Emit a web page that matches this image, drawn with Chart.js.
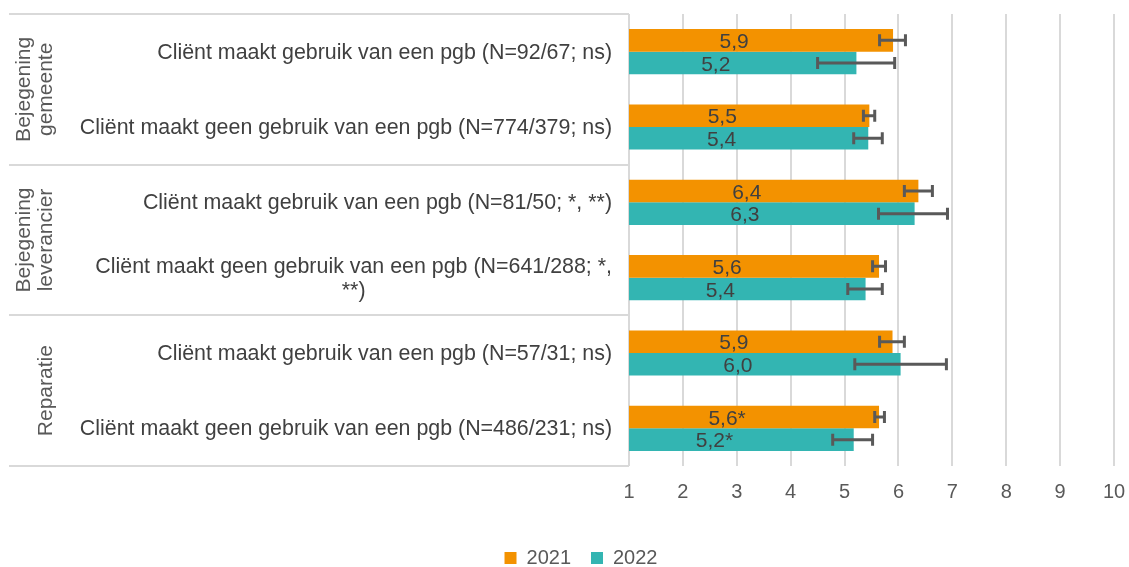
<!DOCTYPE html>
<html>
<head>
<meta charset="utf-8">
<script src="https://cdn.jsdelivr.net/npm/chart.js@4/dist/chart.umd.min.js"></script>
<style>
  html, body { margin: 0; padding: 0; background: #fff; overflow: hidden; }
  #wrap { width: 1129px; height: 567px; }
</style>
</head>
<body>
<div id="wrap"><canvas id="myChart"></canvas></div>
<script>
// categories (one row per bar pair) and the group each row belongs to
const categories = [
  ["Cliënt maakt gebruik van een pgb (N=92/67; ns)"],
  ["Cliënt maakt geen gebruik van een pgb (N=774/379; ns)"],
  ["Cliënt maakt gebruik van een pgb (N=81/50; *, **)"],
  ["Cliënt maakt geen gebruik van een pgb (N=641/288; *,", "**)"],
  ["Cliënt maakt gebruik van een pgb (N=57/31; ns)"],
  ["Cliënt maakt geen gebruik van een pgb (N=486/231; ns)"],
];
const groups = [
  ["Bejegening", "gemeente"],
  ["Bejegening", "leverancier"],
  ["Reparatie"],
];
const groupSize = 2;

// series values (mean scores)
const values2021 = [5.9, 5.46, 6.37, 5.64, 5.89, 5.64];
const values2022 = [5.22, 5.44, 6.3, 5.39, 6.04, 5.17];
// significance markers shown after the value label
const marks2021 = ["", "", "", "", "", "*"];
const marks2022 = ["", "", "", "", "", "*"];
// confidence intervals
const low2021 = [5.65, 5.35, 6.11, 5.52, 5.65, 5.56];
const high2021 = [6.13, 5.56, 6.63, 5.76, 6.11, 5.74];
const low2022 = [4.5, 5.17, 5.63, 5.06, 5.19, 4.78];
const high2022 = [5.93, 5.7, 6.91, 5.7, 6.89, 5.52];

const tickValues = [1, 2, 3, 4, 5, 6, 7, 8, 9, 10];

const FONT = "'Liberation Sans', Arial, sans-serif";
const ORANGE = "#F39200";
const TEAL = "#33B5B2";
const GRID = "#d9d9d9";
const LEFT = 629;
const PAD_LEFT = 48;

// labels, separators, group titles and error bars
const decorPlugin = {
  id: "decor",
  afterDatasetsDraw(chart) {
    const ctx = chart.ctx;
    const y = chart.scales.y;
    const x = chart.scales.x;
    const area = chart.chartArea;
    ctx.save();

    // horizontal separators of the label table
    ctx.strokeStyle = GRID;
    ctx.lineWidth = 2;
    for (let g = 0; g <= groups.length; g++) {
      const py = Math.round(y.getPixelForValue(g * groupSize - 0.5));
      ctx.beginPath();
      ctx.moveTo(9, py);
      ctx.lineTo(area.left, py);
      ctx.stroke();
    }

    // group titles, rotated
    ctx.fillStyle = "#595959";
    ctx.font = "21px " + FONT;
    ctx.textAlign = "center";
    ctx.textBaseline = "middle";
    groups.forEach((lines, g) => {
      const cy = y.getPixelForValue(g * groupSize + (groupSize - 1) / 2);
      lines.forEach((line, i) => {
        const cx = 46 - (lines.length - 1 - i) * 22;
        ctx.save();
        ctx.translate(cx, cy);
        ctx.rotate(-Math.PI / 2);
        ctx.fillText(line, 0, 0);
        ctx.restore();
      });
    });

    // category labels: block right aligned, lines centred in the block
    ctx.fillStyle = "#404040";
    ctx.font = "21.4px " + FONT;
    categories.forEach((lines, i) => {
      const cy = y.getPixelForValue(i) + 1;
      const w = Math.max(...lines.map((l) => ctx.measureText(l).width));
      const cx = area.left - 17 - w / 2;
      lines.forEach((line, k) => {
        ctx.fillText(line, cx, cy + (k - (lines.length - 1) / 2) * 24);
      });
    });

    // error bars and value labels
    const series = [
      { low: low2021, high: high2021, vals: values2021, marks: marks2021 },
      { low: low2022, high: high2022, vals: values2022, marks: marks2022 },
    ];
    series.forEach((s, d) => {
      const meta = chart.getDatasetMeta(d);
      meta.data.forEach((bar, i) => {
        const by = bar.y;
        // value label centred in bar
        ctx.fillStyle = "#404040";
        ctx.font = "21px " + FONT;
        ctx.textAlign = "center";
        const txt = s.vals[i].toFixed(1).replace(".", ",") + s.marks[i];
        ctx.fillText(txt, (bar.base + bar.x) / 2, by + 2);
        // error bar
        const x0 = x.getPixelForValue(s.low[i]);
        const x1 = x.getPixelForValue(s.high[i]);
        ctx.strokeStyle = "#595959";
        ctx.lineWidth = 3;
        ctx.beginPath();
        ctx.moveTo(x0, by);
        ctx.lineTo(x1, by);
        ctx.moveTo(x0, by - 6);
        ctx.lineTo(x0, by + 6);
        ctx.moveTo(x1, by - 6);
        ctx.lineTo(x1, by + 6);
        ctx.stroke();
      });
    });

    ctx.restore();
  },
};

const ctx = document.getElementById("myChart").getContext("2d");
new Chart(ctx, {
  type: "bar",
  data: {
    labels: categories.map((c) => c.join(" ")),
    datasets: [
      {
        label: "2021",
        data: values2021,
        backgroundColor: ORANGE,
        categoryPercentage: 0.6,
        barPercentage: 1,
      },
      {
        label: "2022",
        data: values2022,
        backgroundColor: TEAL,
        categoryPercentage: 0.6,
        barPercentage: 1,
      },
    ],
  },
  options: {
    indexAxis: "y",
    responsive: true,
    maintainAspectRatio: false,
    animation: false,
    layout: {
      padding: { left: PAD_LEFT, right: 15, top: 14, bottom: -11 },
    },
    scales: {
      x: {
        min: 1,
        max: 10,
        afterBuildTicks: (scale) => {
          scale.ticks = tickValues.map((v) => ({ value: v }));
        },
        afterFit: (scale) => {
          scale.height = 62;
          scale.paddingRight = 0;
        },
        border: { display: false },
        grid: { color: GRID, lineWidth: 2, drawTicks: false },
        ticks: {
          padding: 14,
          color: "#595959",
          font: { family: FONT, size: 20 },
        },
      },
      y: {
        afterFit: (scale) => {
          scale.width = LEFT - PAD_LEFT;
        },
        border: { display: false },
        grid: { display: false },
        ticks: { display: false },
      },
    },
    plugins: {
      legend: {
        position: "bottom",
        labels: {
          boxWidth: 12,
          boxHeight: 12,
          padding: 20,
          color: "#595959",
          font: { family: FONT, size: 20 },
        },
      },
      tooltip: { enabled: false },
    },
  },
  plugins: [decorPlugin],
});
</script>
</body>
</html>
